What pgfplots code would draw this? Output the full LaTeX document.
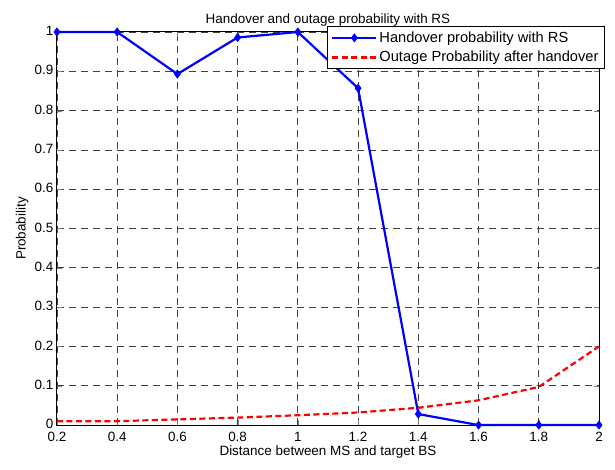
\documentclass[border=0pt]{standalone}
\usepackage{fontspec}
\setmainfont{Liberation Sans}
\usepackage{pgfplots}
\pgfplotsset{compat=1.18}

\begin{document}
\fontsize{13.5}{15}\selectfont
\begin{tikzpicture}[x=1bp,y=1bp]
\begin{axis}[
  width=542bp,height=393bp,scale only axis,
  xmin=0.2,xmax=2,ymin=0,ymax=1,
  xtick={0.2,0.4,...,2.01},ytick={0,0.1,...,1.01},
  tick align=inside,
  major tick length=5bp,
  grid=major,
  major grid style={black!75,dash pattern=on 7bp off 5bp,line width=0.8bp},
  axis line style={line width=1bp},
  /pgf/number format/assume math mode=true,
  tick label style={font=\fontsize{13.5}{15}\selectfont},
  xticklabel style={yshift=-2.5bp},
  yticklabel style={xshift=1bp,yshift=1bp},
  title={Handover and outage probability with RS},
  title style={yshift=-5bp},
  xlabel={Distance between MS and target BS},
  ylabel={Probability},
  xlabel style={yshift=5bp},
  ylabel style={yshift=-3bp},
  clip=false,
  legend cell align=left,
  legend style={at={(1.011,1.015)},anchor=north east,draw=black,fill=white,
    line width=1bp,inner xsep=4bp,inner ysep=3bp,row sep=3bp,
    font=\fontsize{14.7}{16}\selectfont},
  legend image code/.code={%
    \draw[mark repeat=2,mark phase=2] plot coordinates {(0bp,0bp)(22bp,0bp)(44bp,0bp)};},
]
\addplot[blue,line width=2.2bp,mark=diamond*,mark size=3.8bp,
  mark options={solid,line width=1bp}]
  coordinates {(0.2,1)(0.4,1)(0.6,0.893)(0.8,0.986)(1.0,1)(1.2,0.857)
  (1.4,0.028)(1.6,0)(1.8,0)(2.0,0)};
\addlegendentry{Handover probability with RS}
\addplot[red,line width=2.2bp,dash pattern=on 6bp off 3.5bp]
  coordinates {(0.2,0.0095)(0.4,0.0098)(0.6,0.0145)(0.8,0.019)(1.0,0.025)
  (1.2,0.032)(1.4,0.044)(1.6,0.063)(1.8,0.097)(2.0,0.2)};
\addlegendentry{Outage Probability after handover}
\path (rel axis cs:-0.105,-0.112) rectangle (rel axis cs:1.0295,1.0814);
\end{axis}
\end{tikzpicture}
\end{document}
